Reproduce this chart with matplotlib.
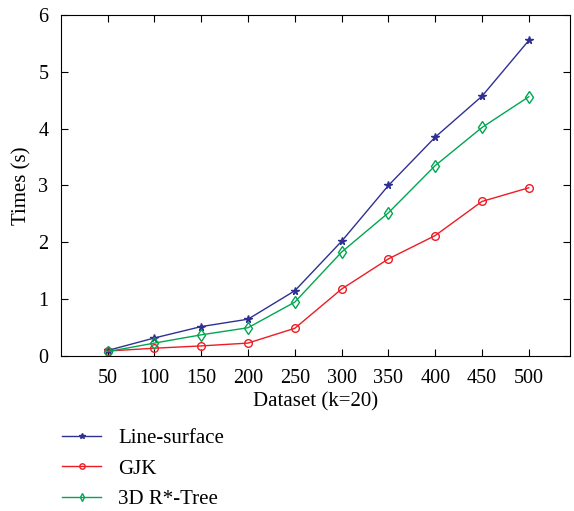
import numpy as np
import matplotlib.pyplot as plt

plt.rcParams['font.family'] = ['Liberation Serif', 'DejaVu Serif']

datasets = [50, 100, 150, 200, 250, 300, 350, 400, 450, 500]
line_surface = [0.10, 0.32, 0.52, 0.65, 1.15, 2.02, 3.00, 3.85, 4.57, 5.55]
gjk = [0.09, 0.14, 0.18, 0.23, 0.49, 1.18, 1.71, 2.12, 2.72, 2.96]
rstar_tree = [0.08, 0.23, 0.375, 0.50, 0.95, 1.83, 2.52, 3.35, 4.02, 4.56]

fig = plt.figure(figsize=(5.74, 5.11), dpi=100)
ax = fig.add_axes([0.106, 0.303, 0.887, 0.668])

ax.plot(datasets, line_surface, color='#2E3192', marker='*', markersize=5.5,
        linewidth=1, label='Line-surface')
ax.plot(datasets, gjk, color='#ED1C24', marker='o', markersize=5.5, markerfacecolor='none',
        linewidth=1, label='GJK')
ax.plot(datasets, rstar_tree, color='#00A651', marker='d', markersize=6, markerfacecolor='none',
        linewidth=1, label='3D R*-Tree')

ax.set_xlim(0, 544)
ax.set_ylim(0, 6)
ax.set_xticks(datasets)
ax.set_yticks(range(7))
ax.tick_params(direction='in', top=True, right=True, labelsize=14.5, length=5)
ax.tick_params(axis='x', pad=9)
ax.tick_params(axis='y', pad=9)
ax.set_xlabel('Dataset (k=20)', fontsize=15, labelpad=3)
ax.set_ylabel('Times (s)', fontsize=15, labelpad=5)

fig.legend(loc='upper left', bbox_to_anchor=(0.075, 0.198), frameon=False,
           fontsize=15, handlelength=1.9, labelspacing=0.52, markerscale=0.7,
           handletextpad=0.8)

fig.savefig('out.png', dpi=100)
